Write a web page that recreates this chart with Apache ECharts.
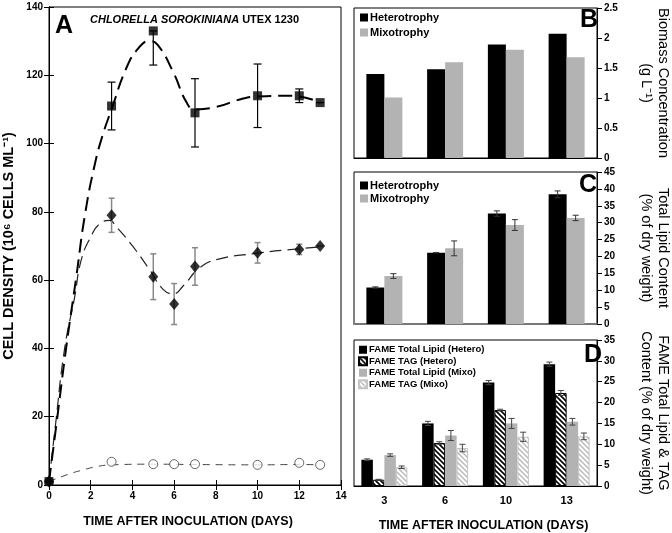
<!DOCTYPE html>
<html><head><meta charset="utf-8">
<script src="https://cdn.jsdelivr.net/npm/echarts@6/dist/echarts.min.js"></script>
<style>html,body{margin:0;padding:0;background:#fff}#c{width:672px;height:533px}</style>
</head><body><div id="c"></div>
<script>
// ---------- Panel A data ----------
const squareDays = [0, 3, 5, 7, 10, 12, 13];
const squareVals = [1, 111, 133, 109, 114, 114, 112];
const squareErrLo = [0, 7, 10, 10, 9.3, 2, 0];
const squareErrHi = [0, 7, 0, 10, 9.3, 2, 0];
const diamondDays = [0, 3, 5, 6, 7, 10, 12, 13];
const diamondVals = [1, 79, 61, 53, 64, 68, 69, 70];
const diamondErr = [0, 5, 6.7, 6, 5.5, 3, 1.5, 0];
const circleDays = [0, 3, 5, 6, 7, 10, 12, 13];
const circleVals = [1, 6.8, 6.1, 6.1, 6.1, 5.9, 6.5, 5.9];
// fitted dashed curves
const squareFit = [[0,1],[0.36,18],[0.84,41],[1.31,61],[1.72,79],[2.2,94],[2.6,103],[3,110],[3.7,122],[4.3,128],[4.8,130],[5.2,129],[5.95,121],[6.6,112],[7,110],[8,110.7],[9.2,113],[10,113.8],[11.4,114],[12,113.8],[13,112]];
const diamondFit = [[0,1],[0.3,17],[0.75,40],[1.23,55],[1.55,66],[2.03,73],[2.43,76.5],[2.9,77.5],[3.23,75.6],[4.03,69.8],[4.83,63],[5.47,57.3],[5.95,56],[6.43,58.3],[7.2,63.5],[8.03,66],[10,67.9],[12,69.2],[13,69.7]];
const circleFit = [[0,1],[1,3.3],[1.63,4.4],[2.3,5.4],[3,5.9],[5,6.1],[7,6.0],[10,5.9],[12,6.0],[13,5.9]];

// ---------- Panels B-D data ----------
const categories = ['3', '6', '10', '13'];
const biomassHetero = [1.4, 1.48, 1.89, 2.07];
const biomassMixo = [1.01, 1.595, 1.805, 1.68];
const lipidHetero = [10.8, 21.1, 32.7, 38.4];
const lipidHeteroErr = [0.2, 0, 0.8, 1.0];
const lipidMixo = [14.2, 22.4, 29.3, 31.4];
const lipidMixoErr = [0.7, 2.2, 1.6, 0.8];
const fameLipidHetero = [6.3, 15.0, 24.8, 29.2];
const fameLipidHeteroErr = [0.2, 0.5, 0.5, 0.5];
const fameTagHetero = [1.5, 10.3, 18.2, 22.3];
const fameTagHeteroErr = [0.1, 0.3, 0.2, 0.6];
const fameLipidMixo = [7.4, 12.1, 15.0, 15.4];
const fameLipidMixoErr = [0.3, 1.2, 1.2, 0.8];
const fameTagMixo = [4.5, 9.1, 11.8, 11.9];
const fameTagMixoErr = [0.3, 0.9, 1.1, 0.8];

const FONT = 'Liberation Sans, Arial, sans-serif';

function hatch(bg, fg, lw) {
  const n = 5, c = document.createElement('canvas');
  c.width = n; c.height = n;
  const g = c.getContext('2d');
  g.fillStyle = bg; g.fillRect(0, 0, n, n);
  g.strokeStyle = fg; g.lineWidth = lw;
  g.beginPath();
  g.moveTo(-1, -1); g.lineTo(n + 1, n + 1);
  g.moveTo(-1, n - 1); g.lineTo(1, n + 1);
  g.moveTo(n - 1, -1); g.lineTo(n + 1, 1);
  g.stroke();
  return { image: c, repeat: 'repeat' };
}
const darkHatch = hatch('#ffffff', '#000000', 1.6);
const lightHatch = hatch('#ffffff', '#b8b8b8', 1.4);

function errLines(x, y1, y2, cap, color, w) {
  return [
    { type: 'line', shape: { x1: x, y1: y1, x2: x, y2: y2 }, style: { stroke: color, lineWidth: w } },
    { type: 'line', shape: { x1: x - cap, y1: y1, x2: x + cap, y2: y1 }, style: { stroke: color, lineWidth: w } },
    { type: 'line', shape: { x1: x - cap, y1: y2, x2: x + cap, y2: y2 }, style: { stroke: color, lineWidth: w } }
  ];
}
function xyErr(color, w, cap) {
  return function (params, api) {
    const p1 = api.coord([api.value(0), api.value(1)]);
    const p2 = api.coord([api.value(0), api.value(2)]);
    return { type: 'group', children: errLines(p1[0], p1[1], p2[1], cap, color, w) };
  };
}
function barErr(nBars, barW, color) {
  return function (params, api) {
    const off = (api.value(3) - (nBars - 1) / 2) * barW;
    const p1 = api.coord([api.value(0), api.value(1)]);
    const p2 = api.coord([api.value(0), api.value(2)]);
    return { type: 'group', children: errLines(p1[0] + off, p1[1], p2[1], 3, color, 1) };
  };
}
function barErrData(list) {
  const out = [];
  list.forEach(function (pair, s) {
    pair[0].forEach(function (v, i) { out.push([i, v - pair[1][i], v + pair[1][i], s]); });
  });
  return out;
}

const squareErrData = squareDays.map((d, i) => [d, squareVals[i] - squareErrLo[i], squareVals[i] + squareErrHi[i]]);
const diamondErrData = diamondDays.map((d, i) => [d, diamondVals[i] - diamondErr[i], diamondVals[i] + diamondErr[i]]);

const axisBlack = { lineStyle: { color: '#000', width: 1 } };
const labelBold = (sz) => ({ fontFamily: FONT, fontWeight: 'bold', fontSize: sz, color: '#000' });

function rightY(grid, max, interval, name, gap) {
  return {
    type: 'value', gridIndex: grid, position: 'right', min: 0, max: max, interval: interval,
    axisLine: { show: true, lineStyle: { color: '#000' } },
    axisTick: { show: true, inside: false, length: 5, lineStyle: { color: '#000' } },
    axisLabel: Object.assign({ margin: 7 }, labelBold(10)),
    splitLine: { show: false },
    name: name, nameLocation: 'middle', nameRotate: -90, nameGap: gap,
    nameTextStyle: { fontFamily: FONT, fontSize: 14.5, color: '#000', lineHeight: 17 }
  };
}
function catX(grid, showLabels, lineColor, lineW) {
  return {
    type: 'category', gridIndex: grid, data: categories,
    axisLine: { show: true, lineStyle: { color: lineColor, width: lineW } },
    axisTick: { show: false },
    axisLabel: Object.assign({ show: showLabels, margin: 9 }, labelBold(11)),
    splitLine: { show: false }
  };
}

const option = {
  animation: false,
  backgroundColor: '#fff',
  title: [
    { text: '{i|CHLORELLA SOROKINIANA} UTEX 1230', left: 90, top: 14, padding: 0,
      textStyle: { fontFamily: FONT, fontSize: 11, fontWeight: 'bold', color: '#000',
        rich: { i: { fontFamily: FONT, fontSize: 11, fontWeight: 'bold', fontStyle: 'italic', color: '#000' } } } },
    { text: 'A', left: 55, top: 14, padding: 0, textStyle: { fontFamily: FONT, fontSize: 25, fontWeight: 'bold', color: '#000' } },
    { text: 'B', left: 580, top: 8, padding: 0, textStyle: { fontFamily: FONT, fontSize: 25, fontWeight: 'bold', color: '#000' } },
    { text: 'C', left: 579, top: 173, padding: 0, textStyle: { fontFamily: FONT, fontSize: 25, fontWeight: 'bold', color: '#000' } },
    { text: 'D', left: 584, top: 343, padding: 0, textStyle: { fontFamily: FONT, fontSize: 25, fontWeight: 'bold', color: '#000' } }
  ],
  grid: [
    { left: 48, top: 7, width: 293, height: 485, show: true, borderColor: '#000', borderWidth: 1 },
    { left: 354, top: 8, width: 251, height: 150, show: true, borderColor: '#000', borderWidth: 1 },
    { left: 354, top: 172, width: 251, height: 152, show: true, borderColor: '#000', borderWidth: 1 },
    { left: 354, top: 340, width: 251, height: 149, show: true, borderColor: '#000', borderWidth: 1 }
  ],
  legend: [
    { data: ['Heterotrophy', 'Mixotrophy'], orient: 'vertical', left: 360, top: 11, icon: 'rect',
      itemWidth: 8, itemHeight: 8, itemGap: 2, padding: 0, selectedMode: false,
      textStyle: Object.assign({ lineHeight: 13, padding: [0, 0, 0, -3] }, labelBold(11)) },
    { data: ['Heterotrophy', 'Mixotrophy'], orient: 'vertical', left: 360, top: 179, icon: 'rect',
      itemWidth: 8, itemHeight: 8, itemGap: 0, padding: 0, selectedMode: false,
      textStyle: Object.assign({ lineHeight: 13, padding: [0, 0, 0, -3] }, labelBold(11)) },
    { data: ['FAME Total Lipid (Hetero)', 'FAME TAG (Hetero)', 'FAME Total Lipid (Mixo)', 'FAME TAG (Mixo)'],
      orient: 'vertical', left: 358, top: 344, icon: 'rect',
      itemWidth: 8, itemHeight: 8, itemGap: 0, padding: 0, selectedMode: false,
      textStyle: Object.assign({ lineHeight: 11.5, padding: [0, 0, 0, -3] }, labelBold(9.5)) }
  ],
  xAxis: [
    { type: 'value', gridIndex: 0, min: 0, max: 14, interval: 2,
      axisLine: axisBlack, axisTick: { inside: true, length: 5, lineStyle: { color: '#000' } },
      axisLabel: Object.assign({ margin: 6 }, labelBold(10)), splitLine: { show: false },
      name: 'TIME AFTER INOCULATION (DAYS)', nameLocation: 'middle', nameGap: 30,
      nameTextStyle: Object.assign({ padding: [0, 14, 0, 0] }, labelBold(12.5)) },
    { type: 'value', gridIndex: 0, position: 'top', min: 0, max: 14, interval: 2,
      axisLine: axisBlack, axisTick: { inside: true, length: 5, lineStyle: { color: '#000' } },
      axisLabel: { show: false }, splitLine: { show: false } },
    catX(1, false, '#000', 1),
    catX(2, false, '#777', 2),
    Object.assign(catX(3, true, '#000', 1), {
      name: 'TIME AFTER INOCULATION (DAYS)', nameLocation: 'middle', nameGap: 33,
      nameTextStyle: Object.assign({ padding: [0, 0, 0, 16] }, labelBold(12.5)) })
  ],
  yAxis: [
    { type: 'value', gridIndex: 0, min: 0, max: 140, interval: 20,
      axisLine: axisBlack, axisTick: { inside: true, length: 5, lineStyle: { color: '#000' } },
      axisLabel: Object.assign({ margin: 6 }, labelBold(10)), splitLine: { show: false },
      name: 'CELL DENSITY (10\u2076 CELLS ML\u207B\u00B9)', nameLocation: 'middle', nameGap: 33, nameRotate: 90,
      nameTextStyle: labelBold(14.5) },
    { type: 'value', gridIndex: 0, position: 'right', min: 0, max: 140, interval: 20,
      axisLine: axisBlack, axisTick: { inside: true, length: 5, lineStyle: { color: '#000' } },
      axisLabel: { show: false }, splitLine: { show: false } },
    rightY(1, 2.5, 0.5, 'Biomass Concentration\n(g L\u207B\u00B9)', 40),
    rightY(2, 45, 5, 'Total Lipid Content\n(% of dry weight)', 40),
    rightY(3, 35, 5, 'FAME Total Lipid & TAG\nContent (% of dry weight)', 40)
  ],
  series: [
    // ---- Panel A ----
    { type: 'line', name: 'circleFit', xAxisIndex: 0, yAxisIndex: 0, data: circleFit, smooth: true, showSymbol: false,
      lineStyle: { color: '#444', width: 1, type: [7, 6] }, z: 2 },
    { type: 'line', name: 'diamondFit', xAxisIndex: 0, yAxisIndex: 0, data: diamondFit, smooth: true, showSymbol: false,
      lineStyle: { color: '#222', width: 1.2, type: [12, 6] }, z: 2 },
    { type: 'line', name: 'squareFit', xAxisIndex: 0, yAxisIndex: 0, data: squareFit, smooth: true, showSymbol: false,
      lineStyle: { color: '#000', width: 2, type: [14, 7] }, z: 2 },
    { type: 'custom', name: 'diamondErr', xAxisIndex: 0, yAxisIndex: 0, data: diamondErrData,
      renderItem: xyErr('#888', 1.5, 3), encode: { x: 0, y: [1, 2] }, z: 3 },
    { type: 'custom', name: 'squareErr', xAxisIndex: 0, yAxisIndex: 0, data: squareErrData,
      renderItem: xyErr('#000', 1.2, 4), encode: { x: 0, y: [1, 2] }, z: 3 },
    { type: 'scatter', name: 'circles', xAxisIndex: 0, yAxisIndex: 0,
      data: circleDays.map((d, i) => [d, circleVals[i]]), symbol: 'circle', symbolSize: 9,
      itemStyle: { color: '#fff', borderColor: '#444', borderWidth: 1 }, z: 4 },
    { type: 'scatter', name: 'diamonds', xAxisIndex: 0, yAxisIndex: 0,
      data: diamondDays.map((d, i) => [d, diamondVals[i]]), symbol: 'diamond', symbolSize: [10, 12],
      itemStyle: { color: '#000' }, z: 5 },
    { type: 'scatter', name: 'squares', xAxisIndex: 0, yAxisIndex: 0,
      data: squareDays.map((d, i) => [d, squareVals[i]]), symbol: 'rect', symbolSize: 9,
      itemStyle: { color: '#000' }, z: 6 },
    // ---- Panel B ----
    { type: 'bar', name: 'Heterotrophy', xAxisIndex: 2, yAxisIndex: 2, data: biomassHetero, barWidth: 18, barGap: '0%',
      itemStyle: { color: '#000' } },
    { type: 'bar', name: 'Mixotrophy', xAxisIndex: 2, yAxisIndex: 2, data: biomassMixo, barWidth: 18, barGap: '0%',
      itemStyle: { color: '#b3b3b3' } },
    // ---- Panel C ----
    { type: 'bar', name: 'Heterotrophy', xAxisIndex: 3, yAxisIndex: 3, data: lipidHetero, barWidth: 18, barGap: '0%',
      itemStyle: { color: '#000' } },
    { type: 'bar', name: 'Mixotrophy', xAxisIndex: 3, yAxisIndex: 3, data: lipidMixo, barWidth: 18, barGap: '0%',
      itemStyle: { color: '#b3b3b3' } },
    { type: 'custom', name: 'lipidErr', xAxisIndex: 3, yAxisIndex: 3,
      data: barErrData([[lipidHetero, lipidHeteroErr], [lipidMixo, lipidMixoErr]]),
      renderItem: barErr(2, 18, '#333'), encode: { x: 0, y: [1, 2] }, z: 10 },
    // ---- Panel D ----
    { type: 'bar', name: 'FAME Total Lipid (Hetero)', xAxisIndex: 4, yAxisIndex: 4, data: fameLipidHetero, barWidth: 11.5, barGap: '0%',
      itemStyle: { color: '#000' } },
    { type: 'bar', name: 'FAME TAG (Hetero)', xAxisIndex: 4, yAxisIndex: 4, data: fameTagHetero, barWidth: 11.5, barGap: '0%',
      itemStyle: { color: darkHatch, borderColor: '#000', borderWidth: 1 } },
    { type: 'bar', name: 'FAME Total Lipid (Mixo)', xAxisIndex: 4, yAxisIndex: 4, data: fameLipidMixo, barWidth: 11.5, barGap: '0%',
      itemStyle: { color: '#b3b3b3' } },
    { type: 'bar', name: 'FAME TAG (Mixo)', xAxisIndex: 4, yAxisIndex: 4, data: fameTagMixo, barWidth: 11.5, barGap: '0%',
      itemStyle: { color: lightHatch, borderColor: '#c4c4c4', borderWidth: 1 } },
    { type: 'custom', name: 'fameErr', xAxisIndex: 4, yAxisIndex: 4,
      data: barErrData([[fameLipidHetero, fameLipidHeteroErr], [fameTagHetero, fameTagHeteroErr],
                        [fameLipidMixo, fameLipidMixoErr], [fameTagMixo, fameTagMixoErr]]),
      renderItem: barErr(4, 11.5, '#444'), encode: { x: 0, y: [1, 2] }, z: 10 }
  ]
};
const chart = echarts.init(document.getElementById('c'), null, { renderer: 'canvas' });
chart.setOption(option);
</script>
</body></html>
